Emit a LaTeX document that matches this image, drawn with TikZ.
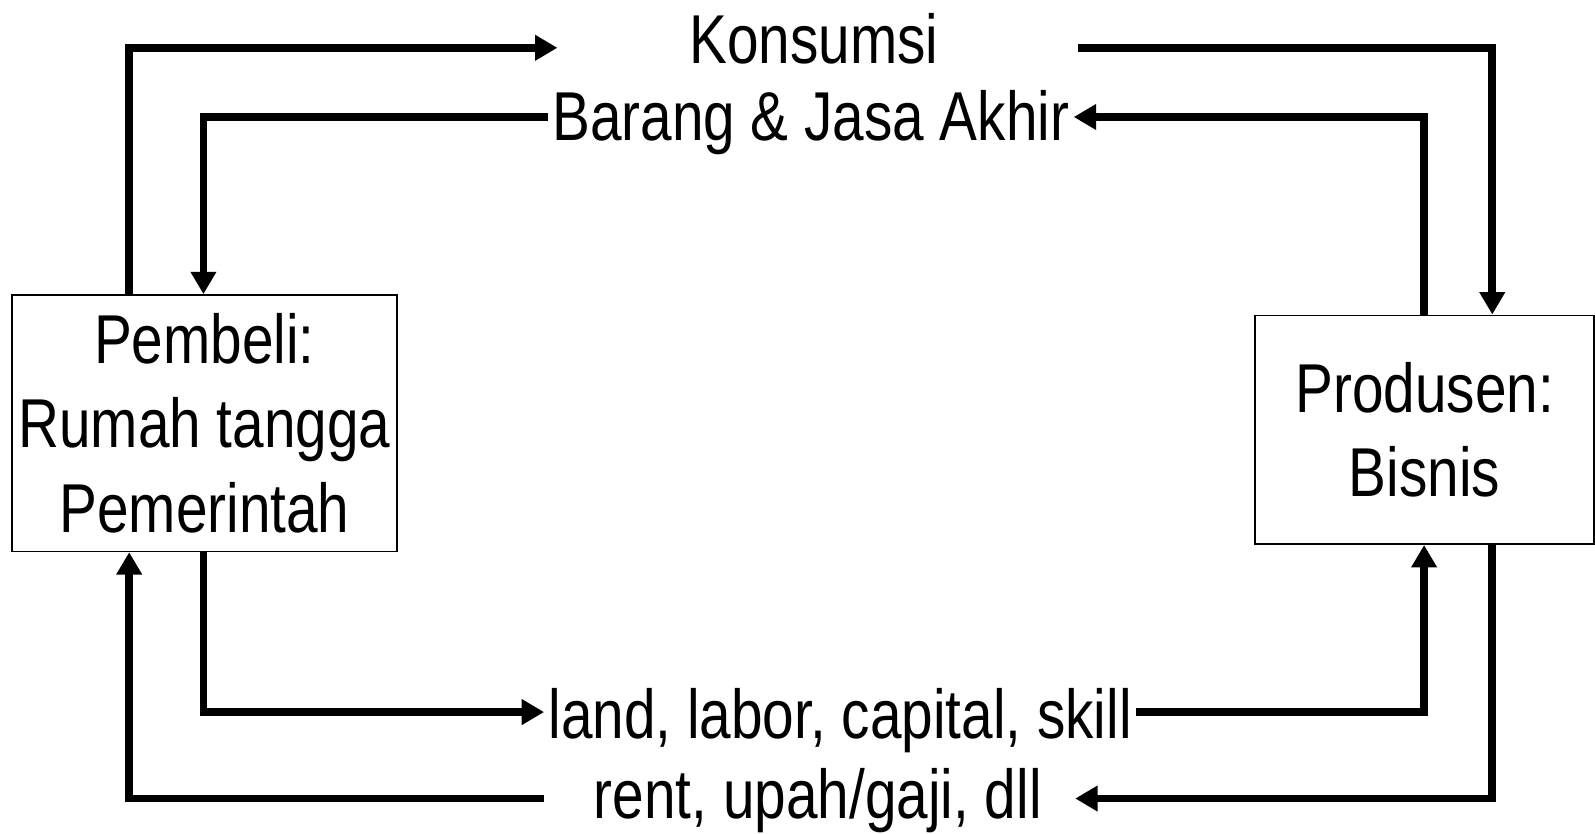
\documentclass[tikz,border=0pt]{standalone}
\usepackage{fontspec}
\setmainfont{Liberation Sans}[FakeStretch=0.82]
\usetikzlibrary{arrows.meta}
\begin{document}
\begin{tikzpicture}[x=0.5pt,y=-0.5pt,
 flow/.style={line width=3.8pt, -{Triangle[length=11pt,width=12pt]}},
 box/.style={draw, line width=0.8pt, align=center, font=\fontsize{34}{41.5}\selectfont, inner sep=0pt},
 lbl/.style={font=\fontsize{34}{40}\selectfont, inner sep=0pt, anchor=base}]
\useasboundingbox (0,0) rectangle (1568,819);
\node[box, minimum width=189pt, minimum height=126pt] (pem) at (201,416) {Pembeli:\\Rumah tangga\\Pemerintah};
\node[box, minimum width=166.5pt, minimum height=112.5pt] (pro) at (1400.5,422.5) {Produsen:\\Bisnis};
\node[lbl] (kons) at (800,62) {Konsumsi};
\node[lbl] (bar) at (797,138) {Barang \& Jasa Akhir};
\node[lbl] (land) at (826,726) {land, labor, capital, skill};
\node[lbl] (rent) at (804,805) {rent, upah/gaji, dll};
% free ends
\coordinate (k1) at (548,47);
\coordinate (k2) at (1060,47);
\coordinate (r1) at (1057,785);
\coordinate (r2) at (535,785);
\coordinate (xa) at (127,0);
\coordinate (xb) at (200,0);
\coordinate (xc) at (1400,0);
\coordinate (xd) at (1467,0);
% top outer
\draw[flow] (pem.north -| xa) |- (k1);
\draw[flow] (k2) -| (pro.north -| xd);
% top inner
\draw[flow] (pro.north -| xc) |- ([xshift=2pt]bar.east |- 0,115);
\draw[flow] ([xshift=-2pt]bar.west |- 0,115) -| (pem.north -| xb);
% bottom inner
\draw[flow] (pem.south -| xb) |- ([xshift=-2pt]land.west |- 0,700);
\draw[flow] ([xshift=2pt]land.east |- 0,700) -| (pro.south -| xc);
% bottom outer
\draw[flow] (pro.south -| xd) |- (r1);
\draw[flow] (r2) -| (pem.south -| xa);
\end{tikzpicture}
\end{document}
